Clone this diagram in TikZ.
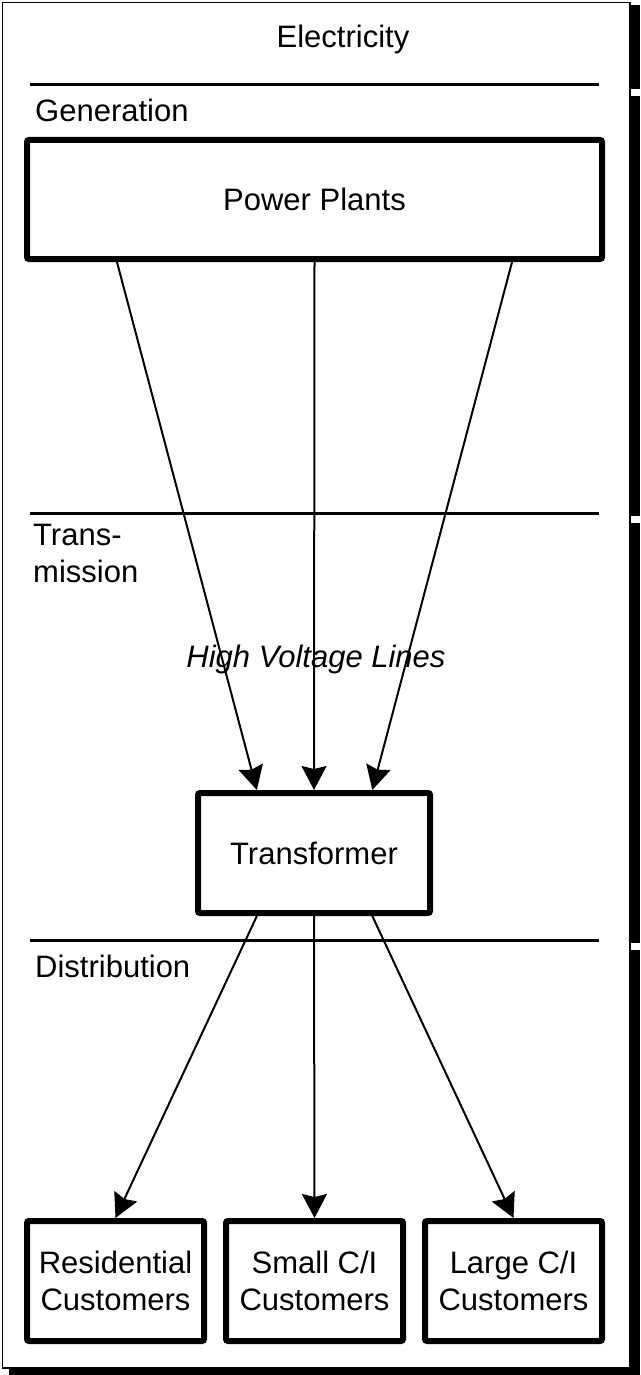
\documentclass[tikz,border=0pt]{standalone}
\usepackage{fontspec}
\setmainfont{Liberation Sans}
\usetikzlibrary{calc,arrows.meta}
\begin{document}
\begin{tikzpicture}[x=1pt,y=-1pt,
  every node/.style={font=\fontsize{31}{37}\selectfont},
  box/.style={draw, line width=6pt, rounded corners=2pt, inner sep=0pt, align=center, fill=white},
  flow/.style={line width=2pt, -{Stealth[length=24pt,width=25pt,inset=3pt]}},
  sep/.style={line width=3pt},
  lane/.style={inner sep=0pt, align=left}]
\useasboundingbox (0,0) rectangle (640,1375);
% shadow
\fill (631,5) rectangle (640,89);
\fill (631,96) rectangle (640,516);
\fill (631,523) rectangle (640,943);
\fill (631,950) rectangle (640,1375);
\fill (9,1369) rectangle (640,1375);
% frame
\draw[line width=1.5pt, fill=white] (2.5,2.5) rectangle (630,1368);
% separators
\draw[sep] (30,85) -- (599,85);
\draw[sep] (30,513) -- (599,513);
\draw[sep] (30,940) -- (599,940);
% labels
\node[anchor=base] (title) at (343,48) {Electricity};
\node[lane, anchor=base west] (gen) at (35,122) {Generation};
\node[lane, anchor=north west] (trans) at (33,524) {Trans-\\mission};
\node[anchor=base] (hv) at (316,667) {\itshape High Voltage Lines};
\node[lane, anchor=base west] (dist) at (35,977) {Distribution};
% boxes
\node[box, minimum width=575pt, minimum height=119pt] (pp) at (314.5,199.5) {Power Plants};
\node[box, minimum width=232pt, minimum height=120pt] (tr) at (314,853) {Transformer};
\node[box, minimum width=177pt, minimum height=120pt] (res) at (115.5,1281) {Residential\\Customers};
\node[box, minimum width=177pt, minimum height=120pt] (small) at (314.5,1281) {Small C/I\\Customers};
\node[box, minimum width=177pt, minimum height=120pt] (large) at (513.5,1281) {Large C/I\\Customers};
% connectors
\draw[flow] ($(pp.south west)!0.16!(pp.south east)$) -- ($(tr.north west)!0.26!(tr.north east)$);
\draw[flow] (pp.south) -- (tr.north);
\draw[flow] ($(pp.south west)!0.84!(pp.south east)$) -- ($(tr.north west)!0.745!(tr.north east)$);
\draw[flow] ($(tr.south west)!0.26!(tr.south east)$) -- (res.north);
\draw[flow] (tr.south) -- (small.north);
\draw[flow] ($(tr.south west)!0.745!(tr.south east)$) -- (large.north);
\end{tikzpicture}
\end{document}
